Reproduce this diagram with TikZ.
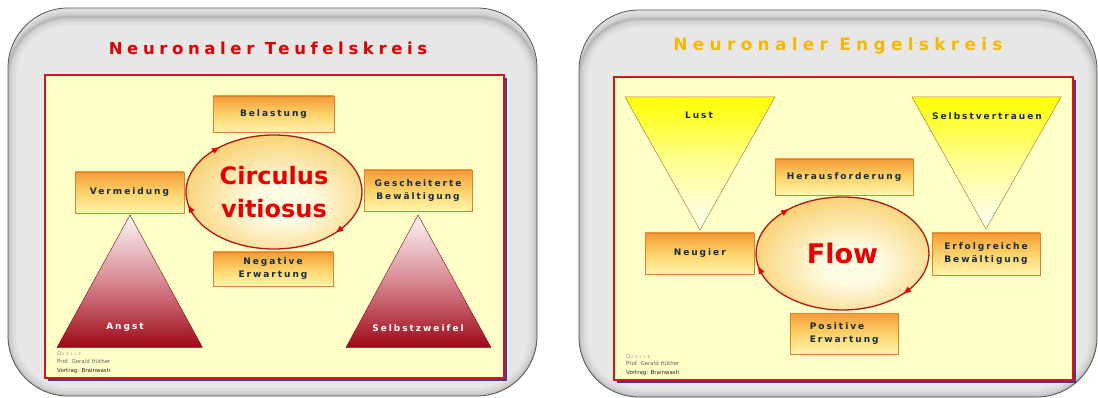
\documentclass[tikz,border=0pt]{standalone}
\usepackage{fontspec}
\setmainfont{DejaVu Sans}
\newfontfamily\headfont{DejaVu Sans}[LetterSpace=28]
\newfontfamily\headfontwide{DejaVu Sans}[LetterSpace=31]
\newfontfamily\lblfont{DejaVu Sans}[LetterSpace=22]
\newfontfamily\srcfont{DejaVu Sans}[LetterSpace=45]
\usetikzlibrary{shapes.geometric,arrows.meta}

\definecolor{panelgray}{RGB}{231,231,231}
\definecolor{paneledge}{RGB}{85,85,85}
\definecolor{paper}{RGB}{255,255,200}
\definecolor{frame}{RGB}{212,22,22}
\definecolor{frameshadow}{RGB}{78,58,140}
\definecolor{devilred}{RGB}{225,0,0}
\definecolor{angelgold}{RGB}{245,185,0}
\definecolor{boxtop}{RGB}{246,156,54}
\definecolor{boxmid}{RGB}{252,210,106}
\definecolor{boxbot}{RGB}{255,246,172}
\definecolor{boxedge}{RGB}{222,128,48}
\definecolor{labelink}{RGB}{20,45,60}
\definecolor{ringedge}{RGB}{180,22,22}
\definecolor{ringout}{RGB}{243,176,26}
\definecolor{ringin}{RGB}{255,252,228}
\definecolor{ringtext}{RGB}{232,0,0}
\definecolor{feartop}{RGB}{252,246,248}
\definecolor{fearmid}{RGB}{216,136,146}
\definecolor{fearbot}{RGB}{158,8,22}
\definecolor{joytop}{RGB}{255,255,0}
\definecolor{joymid}{RGB}{255,255,150}
\definecolor{joybot}{RGB}{255,255,248}
\definecolor{joyedge}{RGB}{170,128,70}

\pgfdeclareradialshading{ringglow}{\pgfpoint{3bp}{-6bp}}{%
  color(0bp)=(ringin); color(8bp)=(ringin); color(46bp)=(ringout); color(70bp)=(ringout)}

\tikzset{
  panel/.style={rounded corners=60pt},
  cardbox/.style={rectangle, draw=boxedge, line width=0.6pt,
    top color=boxtop, bottom color=boxbot, middle color=boxmid,
    inner sep=0pt, outer sep=0pt, align=center, text=labelink,
    font=\lblfont\bfseries\fontsize{9}{13}\selectfont},
  ring/.style={ellipse, draw=ringedge, line width=1.3pt, shading=ringglow,
    inner sep=0pt, outer sep=0pt, align=center, text=ringtext},
  ringtip/.style={-{Triangle[length=7pt,width=6pt]}, ringtext, line width=0.5pt},
  fearshade/.style={top color=feartop, bottom color=fearbot, middle color=fearmid,
    draw=fearbot!80!black, line width=0.4pt},
  joyshade/.style={top color=joytop, bottom color=joybot, middle color=joymid,
    draw=joyedge, line width=0.5pt},
  trilabel/.style={inner sep=0pt, font=\lblfont\bfseries\fontsize{9}{13}\selectfont},
  srcline/.style={inner sep=0pt, anchor=base west, font=\fontsize{5.5}{7}\selectfont},
}

\begin{document}
\begin{tikzpicture}[x=1pt,y=-1pt]
\useasboundingbox (0,0) rectangle (1098,398);
\fill[white] (0,0) rectangle (1098,398);

% two grey cards with a soft inner rim, heavier at the sides and bottom
\foreach \xa/\ya/\xb/\yb in {8/8/537/396, 579/10/1097/397}{
  \fill[panelgray, panel] (\xa,\ya) rectangle (\xb,\yb);
  \begin{scope}
    \clip[panel] (\xa,\ya) rectangle (\xb,\yb);
    \foreach \w/\o in {16/0.035, 10/0.045, 5/0.06, 2/0.08}{
      \draw[panel, black, opacity=\o, line width=\w pt] (\xa,\ya+9) rectangle (\xb,\yb);
    }
  \end{scope}
  \draw[panel, paneledge, line width=0.8pt] (\xa,\ya) rectangle (\xb,\yb);
}

% yellow sheets with red frame and bluish drop shadow
\fill[frameshadow] (48,78) rectangle (507,381);
\draw[fill=paper, draw=frame, line width=1.3pt] (45,75) rectangle (504,378);
\fill[frameshadow] (617,80) rectangle (1076,383);
\draw[fill=paper, draw=frame, line width=1.3pt] (614,77) rectangle (1073,380);

% titles
\node[font=\headfont\bfseries\fontsize{16.5}{19}\selectfont, text=devilred, inner sep=0pt]
  (titleL) at (268,48) {Neuronaler Teufelskreis};
\node[font=\headfontwide\bfseries\fontsize{17}{20}\selectfont, text=angelgold, inner sep=0pt]
  (titleR) at (838,46) {Neuronaler Engelskreis};

% ---------- vicious circle ----------
\path[fearshade] (130,215) -- (202.5,347.5) -- (57,347.5) -- cycle;
\path[fearshade] (418,215) -- (491,347.5) -- (346,347.5) -- cycle;
\node[trilabel, text=white] (angst) at (125,327) {Angst};
\node[trilabel, text=white] (zweifel) at (418,328) {Selbstzweifel};

\node[cardbox, minimum width=121pt, minimum height=36pt] (belastung) at (273.5,114) {Belastung};
\node[cardbox, minimum width=109pt, minimum height=41pt] (vermeidung) at (129.5,192.5) {Vermeidung};
\node[cardbox, minimum width=108pt, minimum height=41pt] (gescheitert) at (418,190.5) {Gescheiterte\\Bewältigung};
\node[cardbox, minimum width=120pt, minimum height=34pt] (negativ) at (273,269) {Negative\\Erwartung};

\node[ring, minimum width=176pt, minimum height=114pt,
  font=\bfseries\fontsize{24}{33}\selectfont] (ringL) at (274,192) {Circulus\\vitiosus};
\draw[ringtip] (ringL.147) -- (ringL.141);
\draw[ringtip] (ringL.196) -- (ringL.189);
\draw[ringtip] (ringL.333) -- (ringL.327);

% ---------- virtuous circle ----------
\path[joyshade] (625,97) -- (775,97) -- (700,230) -- cycle;
\path[joyshade] (912,97) -- (1061,97) -- (986,229) -- cycle;
\node[trilabel, text=labelink] (lust) at (699,115) {Lust};
\node[trilabel, text=labelink] (vertrauen) at (987,116) {Selbstvertrauen};

\node[cardbox, minimum width=138pt, minimum height=36pt] (heraus) at (844,177) {Herausforderung};
\node[cardbox, minimum width=109.5pt, minimum height=41pt] (neugier) at (699.75,253.5) {Neugier};
\node[cardbox, minimum width=108pt, minimum height=42pt] (erfolg) at (986,254) {Erfolgreiche\\Bewältigung};
\node[cardbox, minimum width=108.5pt, minimum height=41pt, align=left] (positiv) at (844.25,333.5) {Positive\\Erwartung};

\node[ring, minimum width=173pt, minimum height=113pt,
  font=\bfseries\fontsize{27}{32}\selectfont] (ringR) at (842.5,253.5) {Flow};
\draw[ringtip] (ringR.147) -- (ringR.141);
\draw[ringtip] (ringR.196) -- (ringR.189);
\draw[ringtip] (ringR.333) -- (ringR.327);

% ---------- source notes ----------
\node[srcline, text=gray!75] (srcQL) at (57,355) {\srcfont Q{\fontsize{4}{6}\selectfont UELLE}};
\node[srcline, text=black!60] (srcProfL) at (57,363.5) {Prof. Gerald Hüther};
\node[srcline, text=black!85] (srcTalkL) at (57,372) {Vortrag: Brainwash};
\node[srcline, text=gray!75] (srcQR) at (626,358) {\srcfont Q{\fontsize{4}{6}\selectfont UELLE}};
\node[srcline, text=black!60] (srcProfR) at (626,365.5) {Prof. Gerald Hüther};
\node[srcline, text=black!85] (srcTalkR) at (626,374) {Vortrag: Brainwash};
\end{tikzpicture}
\end{document}
